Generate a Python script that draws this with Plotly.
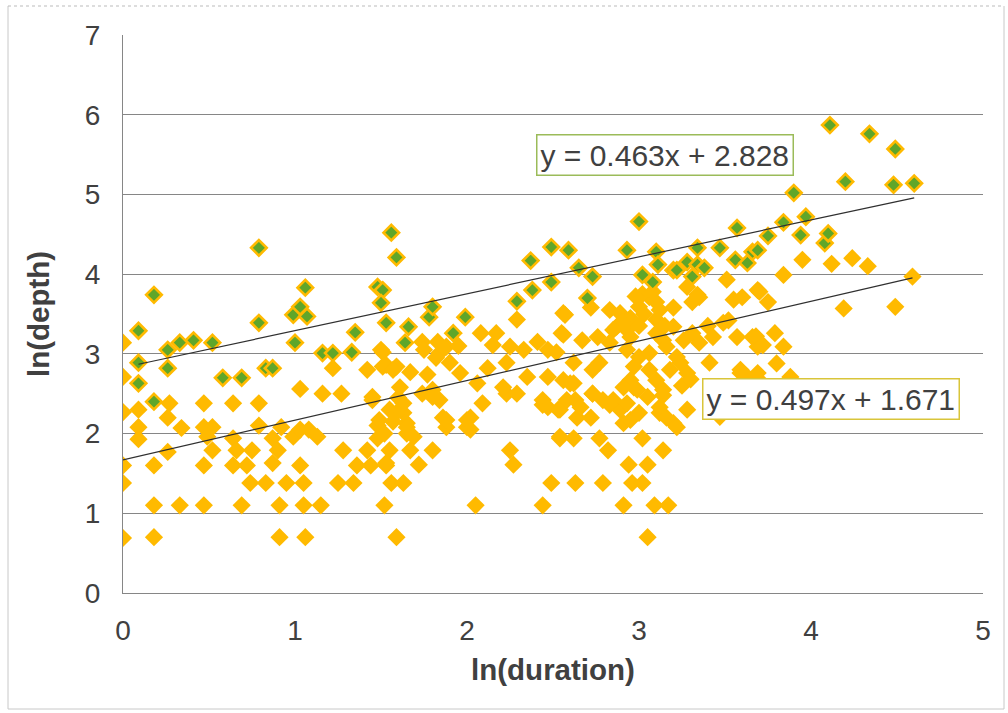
import plotly.graph_objects as go

# Series 1 (orange diamonds) : ln(duration), ln(depth)
orange_x = [0, 0, 0, 0, 0, 0, 0.09, 0.09, 0.09, 0.18, 0.18, 0.18, 0.26, 0.27, 0.26, 0.33, 0.34,
            0.47, 0.47, 0.49, 0.47, 0.47, 0.52, 0.52, 0.64, 0.64, 0.66, 0.64, 0.72, 0.69,
            0.75, 0.74, 0.79, 0.79, 0.83, 0.87, 0.90, 0.87, 0.92, 0.91, 0.91, 0.95,
            0.99, 1.03, 1.08, 1.13, 1.03, 1.05, 1.05, 1.06, 1.03,
            1.15, 1.16, 1.27, 1.22, 1.25, 1.28, 1.34, 1.36, 1.42, 1.44, 1.48, 1.48, 1.45, 1.42, 1.50,
            1.51, 1.52, 1.53, 1.55, 1.56, 1.53, 1.59, 1.59, 1.63,
            1.67, 1.65, 1.65, 1.72, 1.80, 1.61, 1.63, 1.74, 1.80,
            1.88, 2.00, 1.86, 2.02, 2.09, 2.23, 2.29, 2.05, 2.44, 2.25, 2.27,
            2.44, 2.53, 2.63, 2.64, 2.72, 2.73, 2.83, 2.89, 2.91, 2.95, 2.97, 3.12, 3.14, 3.20, 2.60,
            2.49, 2.63, 2.79, 2.96, 3.02, 2.91, 3.09, 3.17, 3.05,
            2.82, 2.94, 3.05, 3.14, 2.54, 2.62, 2.77, 3.02, 3.22,
            2.08, 2.17, 2.15, 2.29, 2.56, 2.55, 1.74, 1.83, 1.88, 1.84, 1.51, 1.53, 1.57, 1.67, 1.77,
            1.90, 1.96, 2.06, 2.12, 2.25, 2.33, 2.41, 2.47, 2.52, 2.23, 2.35, 2.47, 2.21,
            1.45, 1.63, 1.80, 1.84, 1.49, 1.59, 1.65, 1.69, 1.88, 2.00, 2.02, 2.44, 2.47, 2.54, 2.54,
            2.72, 3.06, 3.00, 3.10, 3.20, 3.28, 3.34, 3.31, 3.35, 3.51, 3.55, 3.60, 3.69, 2.57, 2.56,
            2.83, 2.89, 2.87, 2.93, 2.95, 3.10, 3.10, 3.14, 3.20, 3.26, 3.31, 3.35, 3.43, 3.49, 3.57,
            3.66, 3.69, 2.67, 2.76, 2.83, 2.93, 3.00, 3.06, 3.16, 3.22, 3.18, 3.24, 3.28, 3.06, 3.10,
            3.14, 2.97, 2.95, 2.91, 2.99, 2.62, 2.73, 2.77, 2.56, 2.62, 2.73, 2.79, 2.85, 2.93, 3.00,
            3.05, 3.12, 3.16, 3.28, 3.41, 3.59, 3.63, 3.70, 3.47, 2.58, 2.66,
            3.95, 4.12, 4.24, 4.33, 4.59, 4.19, 4.49, 3.84, 3.70, 3.75, 3.68, 3.72, 3.79, 3.84, 3.80,
            3.69, 3.88, 3.59, 3.40, 3.52, 3.02,
            2.95, 3.00, 3.03, 3.08, 2.98, 3.12, 2.90, 3.15, 1.55, 1.60, 1.57, 1.52, 1.82, 1.95, 1.75,
            2.85, 3.25, 3.30]
orange_y = [3.14, 2.71, 2.27, 1.60, 1.38, 0.69, 2.30, 2.08, 1.93, 1.60, 1.10, 0.70, 2.20, 2.38, 1.77, 1.10, 2.07,
            2.38, 2.08, 1.96, 1.60, 1.10, 2.08, 1.79, 2.38, 1.94, 1.79, 1.60, 1.60, 1.10,
            1.79, 1.38, 2.38, 2.10, 1.38, 1.94, 1.79, 1.63, 2.08, 1.10, 0.70, 1.38,
            1.96, 2.05, 2.05, 1.96, 1.60, 1.38, 1.10, 0.70, 2.56,
            1.10, 2.50, 2.50, 2.82, 1.38, 1.79, 1.38, 1.60, 1.79, 1.60, 2.10, 1.94, 2.46, 2.80, 3.05,
            2.84, 1.10, 1.60, 1.79, 1.38, 1.63, 2.84, 0.70, 1.38,
            1.79, 2.00, 2.13, 1.61, 1.79, 2.58, 2.26, 2.50, 2.46,
            2.08, 2.08, 2.20, 2.20, 2.38, 2.50, 2.50, 1.10, 1.10, 1.79, 1.61,
            2.36, 2.30, 2.42, 2.20, 2.20, 2.50, 2.36, 2.30, 2.13, 2.17, 2.58, 2.26, 2.48, 2.13, 2.63,
            1.38, 1.38, 1.38, 1.38, 1.38, 1.10, 1.10, 1.10, 0.70,
            1.79, 1.61, 1.61, 1.79, 1.94, 1.94, 1.94, 1.94, 2.08,
            3.26, 3.26, 3.11, 3.43, 3.51, 3.26, 3.15, 3.15, 3.09, 3.01, 3.02, 2.86, 2.80, 2.77, 2.74,
            2.89, 2.76, 2.63, 2.82, 3.09, 3.05, 3.15, 3.05, 3.02, 2.89, 2.71, 2.71, 2.58,
            2.42, 2.38, 2.55, 2.42, 2.17, 2.26, 2.08, 1.96, 2.17, 2.17, 2.05, 2.42, 2.33, 2.30, 1.96,
            3.58, 3.71, 3.59, 3.65, 3.58, 3.84, 3.74, 3.65, 3.71, 3.93, 3.68, 3.71, 3.80, 3.49, 3.24,
            3.55, 3.51, 3.34, 3.30, 3.21, 3.43, 3.26, 3.17, 3.34, 3.17, 3.26, 3.14, 3.21, 3.39, 3.21,
            3.21, 3.09, 3.17, 3.21, 3.14, 3.05, 2.96, 3.01, 3.09, 2.96, 2.80, 2.89, 2.76, 2.80, 2.67,
            2.55, 2.84, 2.67, 2.58, 2.55, 2.89, 2.80, 2.89, 2.67, 2.63, 2.50, 2.42, 2.42, 2.38, 2.26,
            2.46, 2.33, 2.20, 2.30, 2.89, 2.80, 2.71, 2.67, 2.21, 2.42, 2.33,
            4.18, 4.13, 4.20, 4.10, 3.97, 3.57, 3.59, 3.99, 3.78, 3.65, 3.22, 3.11, 3.26, 3.09, 2.88,
            2.76, 2.71, 2.76, 3.35, 3.42, 3.75,
            3.45, 3.35, 3.50, 3.78, 3.72, 3.55, 3.40, 3.35, 2.30, 2.45, 2.15, 2.00, 2.95, 3.10, 3.05,
            3.30, 2.60, 2.68]

# Series 2 (orange diamonds with green centre)
green_x = [0.09, 0.09, 0.09, 0.18, 0.18, 0.26, 0.26, 0.33, 0.41, 0.52, 0.58, 0.69, 0.79, 0.79, 0.83, 0.87,
           0.99, 1.00, 1.03, 1.06, 1.07, 1.16, 1.22, 1.33, 1.35, 1.48, 1.51, 1.50, 1.53, 1.56, 1.59,
           1.64, 1.66, 1.78, 1.80, 1.92, 1.99, 2.29, 2.37, 2.38, 2.49, 2.49, 2.59, 2.65, 2.70, 2.73,
           2.93, 3.00, 3.02, 3.08, 3.10, 3.11, 3.20, 3.22, 3.28, 3.31, 3.34, 3.34, 3.38, 3.47, 3.56,
           3.57, 3.63, 3.66, 3.69, 3.75, 3.84, 3.90, 3.94, 3.97, 4.08, 4.10, 4.11, 4.20, 4.34, 4.48,
           4.49, 4.60]
green_y = [2.63, 2.89, 3.29, 2.40, 3.74, 3.05, 2.82, 3.14, 3.17, 3.14, 2.70, 2.70, 3.39, 4.33, 2.82, 2.82,
           3.49, 3.14, 3.59, 3.83, 3.47, 3.01, 3.01, 3.02, 3.27, 3.84, 3.80, 3.64, 3.39, 4.52, 4.21,
           3.14, 3.34, 3.46, 3.59, 3.26, 3.46, 3.66, 4.17, 3.80, 3.90, 4.34, 4.30, 4.08, 3.70, 3.97,
           4.30, 4.66, 3.99, 3.90, 4.28, 4.12, 4.05, 4.05, 4.15, 3.97, 4.12, 4.33, 4.08, 4.33, 4.18,
           4.58, 4.14, 4.28, 4.30, 4.48, 4.65, 5.02, 4.49, 4.72, 4.39, 4.51, 5.87, 5.16, 5.76, 5.12,
           5.57, 5.14]

# Linear trend coefficients (slope, intercept) as labelled on the chart
trend_orange = [0.497, 1.671]
trend_green = [0.463, 2.828]

x_ticks = [0, 1, 2, 3, 4, 5]
y_ticks = [0, 1, 2, 3, 4, 5, 6, 7]

ORANGE = "#FFBA00"
GREEN = "#5FA62A"
FONT = "Arial, Liberation Sans, sans-serif"
TXT = "#404040"

fig = go.Figure()

fig.add_trace(go.Scatter(
    x=orange_x, y=orange_y, mode="markers",
    marker=dict(symbol="diamond", size=14, color=ORANGE, line=dict(width=0)),
    showlegend=False, hoverinfo="x+y"))

fig.add_trace(go.Scatter(
    x=green_x, y=green_y, mode="markers",
    marker=dict(symbol="diamond", size=12, color=GREEN, line=dict(width=2.6, color=ORANGE)),
    showlegend=False, hoverinfo="x+y"))

for xs, (m, b) in ((orange_x, trend_orange), (green_x, trend_green)):
    x0, x1 = min(xs), max(xs)
    fig.add_trace(go.Scatter(
        x=[x0, x1], y=[m * x0 + b, m * x1 + b], mode="lines",
        line=dict(color="#303030", width=1.2), showlegend=False, hoverinfo="skip"))

def eq(t):
    return f"y = {t[0]:.3f}x + {t[1]:.3f}"

fig.add_annotation(x=3.151, y=5.49, xref="x", yref="y", text=eq(trend_green), showarrow=False,
                   font=dict(family=FONT, size=30, color=TXT), bgcolor="white",
                   bordercolor="#9BBB59", borderwidth=1.5, borderpad=3)
fig.add_annotation(x=4.119, y=2.434, xref="x", yref="y", text=eq(trend_orange), showarrow=False,
                   font=dict(family=FONT, size=30, color=TXT), bgcolor="white",
                   bordercolor="#D9C53A", borderwidth=1.5, borderpad=3)

# outer chart frame: solid left/right/bottom, dotted top
fx0, fx1 = (8 - 123) / 860, (1004 - 123) / 860
fy0, fy1 = (593 - 709) / 558, (593 - 6) / 558
fig.add_shape(type="path", xref="paper", yref="paper",
              path=f"M {fx0} {fy1} L {fx0} {fy0} L {fx1} {fy0} L {fx1} {fy1}",
              line=dict(color="#C8C8C8", width=1), layer="below")
fig.add_shape(type="line", xref="paper", yref="paper", x0=fx0, x1=fx1, y0=fy1, y1=fy1,
              line=dict(color="#BBBBBB", width=1, dash="dot"), layer="below")

fig.update_layout(
    width=1008, height=713,
    margin=dict(l=123, r=25, t=35, b=120),
    paper_bgcolor="white", plot_bgcolor="white",
    font=dict(family=FONT, color=TXT),
    xaxis=dict(range=[0, 5], tickvals=x_ticks, showgrid=False, zeroline=False,
               showline=True, linecolor="#868686", linewidth=1.2,
               tickfont=dict(size=28, color=TXT), ticks="outside", ticklen=12,
               tickcolor="rgba(0,0,0,0)",
               title=dict(text="<b>ln(duration)</b>", font=dict(size=29.5, color=TXT), standoff=14)),
    yaxis=dict(range=[0, 7], tickvals=y_ticks, showgrid=True, gridcolor="#868686", gridwidth=1.2,
               zeroline=False, showline=True, linecolor="#868686", linewidth=1.2,
               tickfont=dict(size=28, color=TXT), ticks="outside", ticklen=16,
               tickcolor="rgba(0,0,0,0)",
               title=dict(text="<b>ln(depth)</b>", font=dict(size=29.5, color=TXT), standoff=26)),
)

fig.write_html("out.html")
